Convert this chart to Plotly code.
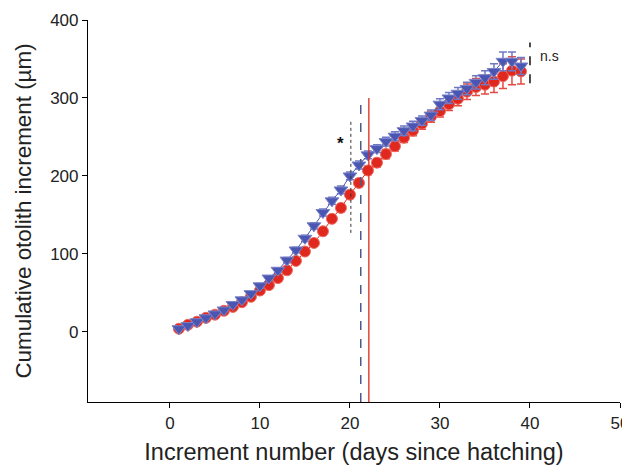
import plotly.graph_objects as go

days = list(range(1, 40))
red_vals = [4, 9, 13, 18, 22, 27, 32, 38, 45, 53, 60, 69, 79, 91, 103, 114, 129, 145, 159, 176,
            191, 207, 217, 228, 238, 249, 258, 267, 276, 283, 292, 299, 308, 314, 317, 321, 328, 335, 334]
red_err = [1, 1, 1.5, 1.5, 2, 2, 2, 2.5, 2.5, 3, 3, 3, 3.5, 3.5, 4, 4, 4.5, 4.5, 5, 5,
           5, 5.5, 5.5, 6, 6, 6, 6.5, 7, 7, 7.5, 8, 9, 10, 11, 12, 14, 16, 18, 16]
blue_vals = [4, 8, 13, 18, 23, 28, 35, 41, 49, 59, 69, 79, 92, 105, 120, 136, 153, 168, 182, 200,
             214, 227, 235, 244, 251, 258, 264, 271, 278, 292, 300, 306, 312, 320, 326, 334, 347, 347, 341]
blue_err = [1, 1, 1.5, 1.5, 2, 2, 2, 2.5, 2.5, 3, 3, 3, 3.5, 3.5, 4, 4, 4.5, 4.5, 5, 5,
            5, 5, 5, 5.5, 5.5, 6, 6, 6, 6.5, 7, 7, 7.5, 8, 8.5, 9, 10, 12, 12, 11]

blue_mark_x = 21.2
red_mark_x = 22.1
mark_y = [-90, 300]
star_line_x = 20.1
star_line_y = [127, 272]
star_pos = (19.0, 242)
ns_line_x = 40
ns_line_y = [319, 371]
ns_pos = (40.9, 354)

RED = "#e0281e"
BLUE = "#4b56b2"

fig = go.Figure()
fig.add_trace(go.Scatter(
    x=days, y=red_vals, mode="lines+markers",
    line=dict(color=RED, width=1),
    marker=dict(symbol="circle", size=11, color=RED, line=dict(color="#ec6a60", width=1)),
    error_y=dict(type="data", array=red_err, color="#e64a40", thickness=1.5, width=4),
))
fig.add_trace(go.Scatter(
    x=days, y=blue_vals, mode="lines+markers",
    line=dict(color=BLUE, width=1),
    marker=dict(symbol="triangle-down", size=12, color=BLUE, line=dict(color="#7a83c8", width=1)),
    error_y=dict(type="data", array=blue_err, color="#6f78c4", thickness=1.5, width=4),
))
fig.add_trace(go.Scatter(x=[blue_mark_x, blue_mark_x], y=mark_y, mode="lines",
                         line=dict(color="#4b5a8c", width=1.5, dash="dash")))
fig.add_trace(go.Scatter(x=[red_mark_x, red_mark_x], y=mark_y, mode="lines",
                         line=dict(color=RED, width=1.3)))
fig.add_trace(go.Scatter(x=[star_line_x, star_line_x], y=star_line_y, mode="lines",
                         line=dict(color="#333333", width=1, dash="dot")))
fig.add_trace(go.Scatter(x=[ns_line_x, ns_line_x], y=ns_line_y, mode="lines",
                         line=dict(color="#111111", width=1.5, dash="dash")))

fig.add_annotation(x=star_pos[0], y=star_pos[1], text="<b>*</b>", showarrow=False,
                   font=dict(size=17, color="#111111"))
fig.add_annotation(x=ns_pos[0], y=ns_pos[1], text="n.s", showarrow=False, xanchor="left",
                   font=dict(size=14, color="#222222"))

fig.update_layout(
    width=622, height=457,
    margin=dict(l=80, r=10, t=12, b=63),
    paper_bgcolor="white", plot_bgcolor="white",
    showlegend=False,
    font=dict(family="Liberation Sans, Arial, sans-serif", color="#222222"),
    xaxis=dict(range=[-9.1, 50], tickvals=[0, 10, 20, 30, 40, 50], showgrid=False, zeroline=False,
               showline=True, linecolor="black", linewidth=1.2, ticks="outside", ticklen=5,
               tickcolor="black", tickfont=dict(size=17), automargin=False,
               title=dict(text="Increment number (days since hatching)", font=dict(size=23.5), standoff=13)),
    yaxis=dict(range=[-90, 400], tickvals=[0, 100, 200, 300, 400], showgrid=False, zeroline=False,
               showline=True, linecolor="black", linewidth=1.2, ticks="outside", ticklen=5,
               tickcolor="black", tickfont=dict(size=17), automargin=False,
               title=dict(text="Cumulative otolith increment (µm)", font=dict(size=22.4), standoff=12)),
)

fig.write_html("out.html")
